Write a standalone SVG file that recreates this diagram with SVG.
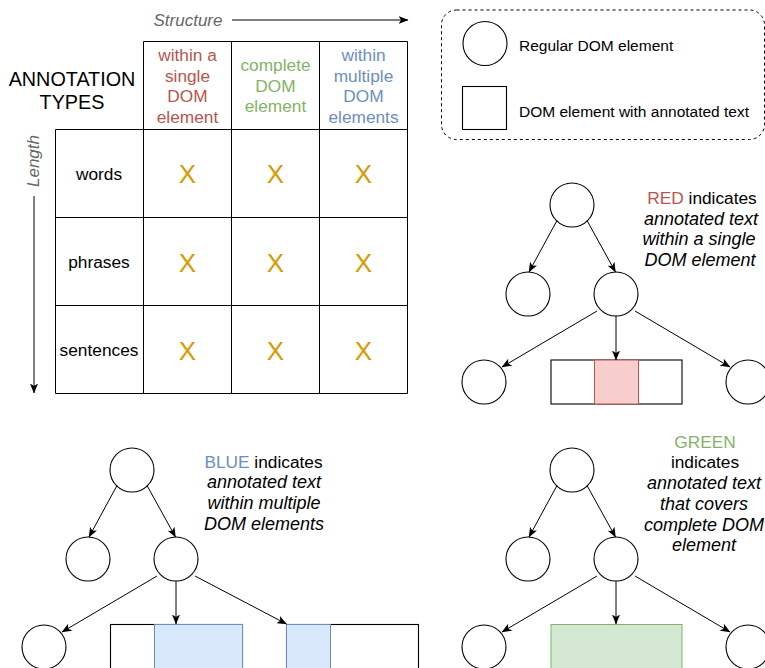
<svg xmlns="http://www.w3.org/2000/svg" width="765" height="668" viewBox="0 0 765 668">
  <defs>
    <marker id="arrow" viewBox="0 0 10 8" refX="9.5" refY="4" markerWidth="10" markerHeight="8" markerUnits="userSpaceOnUse" orient="auto">
      <path d="M0,0 L10,4 L0,8 L2.5,4 Z" fill="#000"/>
    </marker>
  </defs>
  <style>
    text { font-family: "Liberation Sans", Arial, Helvetica, sans-serif; }
    .t17 { font-size: 17.3px; text-anchor: middle; fill: #000; }
    .it { font-style: italic; font-size: 18px; }
    .axis { font-size: 17px; font-style: italic; fill: #666666; text-anchor: middle; }
    .grid { fill: none; stroke: #000; stroke-width: 1; }
    .mark { font-size: 26px; fill: #d79b00; text-anchor: middle; }
    .red { fill: #b85450; }
    .green { fill: #82b366; }
    .blue { fill: #6c8ebf; }
    .node { fill: #fff; stroke: #000; stroke-width: 1.1; }
    .edge { fill: none; stroke: #000; stroke-width: 1; marker-end: url(#arrow); }
    .legend-text { font-size: 15.5px; fill: #000; }
    .hl-red { fill: #f8cecc; stroke: #b85450; stroke-width: 1; }
    .hl-blue { fill: #dae8fc; stroke: #6c8ebf; stroke-width: 1; }
    .hl-green { fill: #d5e8d4; stroke: #82b366; stroke-width: 1; }
  </style>

  <rect width="765" height="668" fill="#fff"/>

  <!-- Axis labels -->
  <g id="axis-structure">
    <text class="axis" x="188" y="25.5">Structure</text>
  </g>
  <g id="axis-length">
    <text class="axis" x="39" y="161" transform="rotate(-90 39 161)">Length</text>
  </g>

  <!-- Title -->
  <g id="title">
    <text x="72" y="86" style="font-size:19.8px;text-anchor:middle">ANNOTATION</text>
    <text x="72" y="109.3" style="font-size:19.8px;text-anchor:middle">TYPES</text>
  </g>

  <!-- Table grid -->
  <g id="table-grid">
    <path class="grid" d="M143.5,41.5 H407.5 V393.5 H55.5 V129.5 H407.5 M143.5,41.5 V393.5 M231.5,41.5 V393.5 M319.5,41.5 V393.5 M55.5,217.5 H407.5 M55.5,305.5 H407.5"/>
  </g>

  <!-- Column headers -->
  <g id="col-single">
    <text class="t17 red" x="187.5" y="61">within a</text>
    <text class="t17 red" x="187.5" y="81.7">single</text>
    <text class="t17 red" x="187.5" y="102.4">DOM</text>
    <text class="t17 red" x="187.5" y="123.1">element</text>
  </g>
  <g id="col-complete">
    <text class="t17 green" x="275.5" y="71">complete</text>
    <text class="t17 green" x="275.5" y="91.7">DOM</text>
    <text class="t17 green" x="275.5" y="112.4">element</text>
  </g>
  <g id="col-multiple">
    <text class="t17 blue" x="363.5" y="61">within</text>
    <text class="t17 blue" x="363.5" y="81.7">multiple</text>
    <text class="t17 blue" x="363.5" y="102.4">DOM</text>
    <text class="t17 blue" x="363.5" y="123.1">elements</text>
  </g>

  <!-- Row headers -->
  <g id="row-words"><text class="t17" x="99" y="179.5">words</text></g>
  <g id="row-phrases"><text class="t17" x="99" y="267.5">phrases</text></g>
  <g id="row-sentences"><text class="t17" x="99" y="355.5">sentences</text></g>

  <!-- Cell marks -->
  <g id="cells">
    <text class="mark" x="187.5" y="183.3">X</text>
    <text class="mark" x="275.5" y="183.3">X</text>
    <text class="mark" x="363.5" y="183.3">X</text>
    <text class="mark" x="187.5" y="271.5">X</text>
    <text class="mark" x="275.5" y="271.5">X</text>
    <text class="mark" x="363.5" y="271.5">X</text>
    <text class="mark" x="187.5" y="359.7">X</text>
    <text class="mark" x="275.5" y="359.7">X</text>
    <text class="mark" x="363.5" y="359.7">X</text>
  </g>

  <!-- Legend -->
  <g id="legend">
    <rect x="441.5" y="10" width="323" height="129.5" rx="15" ry="15" fill="none" stroke="#000" stroke-width="1" stroke-dasharray="3 3"/>
    <circle class="node" cx="485" cy="43.5" r="22"/>
    <text class="legend-text" x="519" y="50.5">Regular DOM element</text>
    <rect class="node" x="462.5" y="86.5" width="44" height="43"/>
    <text class="legend-text" x="519" y="117">DOM element with annotated text</text>
  </g>

  <!-- Red example tree -->
  <g id="red-root"><circle class="node" cx="572" cy="205" r="22"/></g>
  <g id="red-left"><circle class="node" cx="528" cy="294" r="22"/></g>
  <g id="red-right"><circle class="node" cx="616" cy="294" r="22"/></g>
  <g id="red-leaf-left"><circle class="node" cx="484" cy="382" r="22"/></g>
  <g id="red-leaf-text">
    <rect class="node" x="551" y="360" width="131" height="44"/>
    <rect class="hl-red" x="594.5" y="360" width="44" height="44"/>
  </g>
  <g id="red-leaf-right"><circle class="node" cx="748" cy="382" r="22"/></g>
  <g id="red-caption">
    <text class="t17" x="702" y="204"><tspan class="red">RED</tspan> indicates</text>
    <text class="t17 it" x="701" y="224.7">annotated text</text>
    <text class="t17 it" x="699" y="245.4">within a single</text>
    <text class="t17 it" x="700" y="266.1">DOM element</text>
  </g>

  <!-- Blue example tree -->
  <g id="blue-root"><circle class="node" cx="132" cy="470" r="22"/></g>
  <g id="blue-left"><circle class="node" cx="88" cy="559" r="22"/></g>
  <g id="blue-right"><circle class="node" cx="176" cy="559" r="22"/></g>
  <g id="blue-leaf-left"><circle class="node" cx="44" cy="647" r="22"/></g>
  <g id="blue-leaf-text-a">
    <rect class="node" x="110.5" y="624.5" width="132" height="50"/>
    <rect class="hl-blue" x="154.5" y="624.5" width="88" height="50"/>
  </g>
  <g id="blue-leaf-text-b">
    <rect class="node" x="286.5" y="624.5" width="132" height="50"/>
    <rect class="hl-blue" x="286.5" y="624.5" width="44" height="50"/>
  </g>
  <g id="blue-caption">
    <text class="t17" x="263.5" y="467.7"><tspan class="blue">BLUE</tspan> indicates</text>
    <text class="t17 it" x="264" y="488.4">annotated text</text>
    <text class="t17 it" x="264" y="509.1">within multiple</text>
    <text class="t17 it" x="264" y="529.8">DOM elements</text>
  </g>

  <!-- Green example tree -->
  <g id="green-root"><circle class="node" cx="572" cy="470" r="22"/></g>
  <g id="green-left"><circle class="node" cx="528" cy="559" r="22"/></g>
  <g id="green-right"><circle class="node" cx="616" cy="559" r="22"/></g>
  <g id="green-leaf-left"><circle class="node" cx="484" cy="647" r="22"/></g>
  <g id="green-leaf-text">
    <rect class="hl-green" x="551" y="624.5" width="131" height="50"/>
  </g>
  <g id="green-leaf-right"><circle class="node" cx="748" cy="647" r="22"/></g>
  <g id="green-caption">
    <text class="t17 green" x="705" y="447.7">GREEN</text>
    <text class="t17" x="705" y="468.4">indicates</text>
    <text class="t17 it" x="704" y="489.1">annotated text</text>
    <text class="t17 it" x="704" y="509.8">that covers</text>
    <text class="t17 it" x="704" y="530.5">complete DOM</text>
    <text class="t17 it" x="704" y="551.2">element</text>
  </g>

  <!-- Connectors -->
  <g id="connectors">
    <line class="edge" x1="232" y1="20" x2="408" y2="20"/>
    <line class="edge" x1="34" y1="196" x2="34" y2="393"/>

    <line class="edge" x1="557" y1="220.5" x2="529" y2="272"/>
    <line class="edge" x1="587" y1="220.5" x2="615.5" y2="272"/>
    <line class="edge" x1="597" y1="311" x2="502" y2="367"/>
    <line class="edge" x1="616" y1="316" x2="616" y2="360"/>
    <line class="edge" x1="635" y1="311" x2="730" y2="367"/>

    <line class="edge" x1="117" y1="485.5" x2="89" y2="537"/>
    <line class="edge" x1="147" y1="485.5" x2="175.5" y2="537"/>
    <line class="edge" x1="157" y1="576" x2="62" y2="632"/>
    <line class="edge" x1="176" y1="581" x2="176" y2="624"/>
    <line class="edge" x1="195" y1="576" x2="286.5" y2="624"/>

    <line class="edge" x1="557" y1="485.5" x2="529" y2="537"/>
    <line class="edge" x1="587" y1="485.5" x2="615.5" y2="537"/>
    <line class="edge" x1="597" y1="576" x2="502" y2="632"/>
    <line class="edge" x1="616" y1="581" x2="616" y2="624"/>
    <line class="edge" x1="635" y1="576" x2="730" y2="632"/>
  </g>
</svg>
